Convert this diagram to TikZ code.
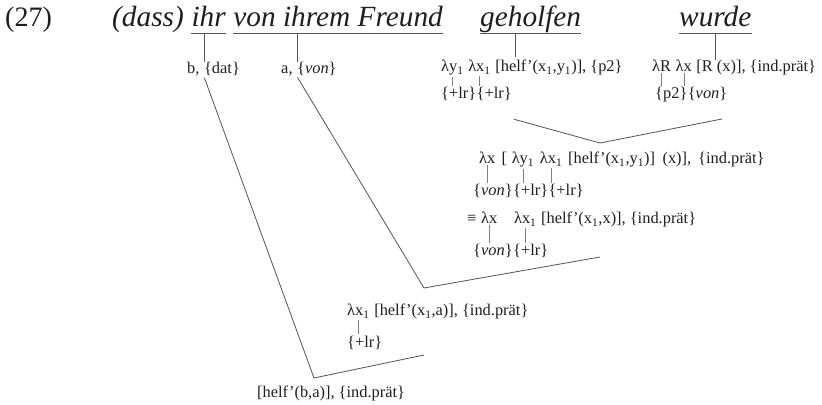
\documentclass[tikz,border=0pt]{standalone}
\usepackage{fontspec}
\setmainfont{Liberation Serif}
\usetikzlibrary{positioning}
\definecolor{inkgray}{RGB}{30,30,30}
\definecolor{linegray}{RGB}{85,85,85}
\newcommand{\helf}{helf\textquoteright}
\newcommand{\ix}[1]{\textsubscript{#1}}

\begin{document}
\begin{tikzpicture}[x=0.03cm, y=-0.03cm,
    every node/.style={inner sep=0pt, text=inkgray},
    word/.style={font=\fontsize{25}{30}\selectfont\itshape, anchor=base west},
    uword/.style={word, text depth=5.5pt},
    sem/.style={font=\fontsize{14}{17}\selectfont, anchor=base west},
    stalk/.style={linegray, line width=0.6pt},
    tick/.style={gray, line width=0.4pt, shorten <=1pt, shorten >=1pt},
    branch/.style={linegray, line width=0.7pt, shorten <=1pt}
  ]
  \useasboundingbox (0,0) rectangle (822,405);

  % sentence
  \node[word, font=\fontsize{24}{28}\selectfont] (num) at (5,27) {(27)};
  \node[word] (dass) at (112,27) {(dass)};
  \node[uword, base right=6.2pt of dass] (ihr) {ihr};
  \node[uword, base right=6.2pt of ihr] (vF) {von ihrem Freund};
  \node[uword] (geh) at (480,27) {geholfen};
  \node[uword] (wur) at (679,27) {wurde};
  \foreach \w in {ihr, vF, geh, wur}
    \draw[stalk] (\w.south west) -- (\w.south east);

  % lexical entries
  \node[sem] (b) at (187,74) {b,};
  \node[sem, base right=3.5pt of b] (dat) {\{dat\}};
  \node[sem] (a) at (281,74) {a,};
  \node[sem, base right=3.5pt of a] (von) {\{\textit{von}\}};

  \node[sem] (ly1) at (441,72) {λy\ix{1}};
  \node[sem, base right=3.5pt of ly1] (lx1) {λx\ix{1}};
  \node[sem, base right=3.5pt of lx1] (g1) {[\helf(x\ix{1},y\ix{1})], \{p2\}};
  \node[sem] (fl1) at (441,99) {\{+lr\}};
  \node[sem, base right=0pt of fl1] (fl2) {\{+lr\}};

  \node[sem] (lR) at (652,72) {λR};
  \node[sem, base right=3.5pt of lR] (lx2) {λx};
  \node[sem, base right=3.5pt of lx2] (w1) {[R (x)], \{ind.prät\}};
  \node[sem] (fp2) at (655,99) {\{p2\}};
  \node[sem, base right=0pt of fp2] (fvon1) {\{\textit{von}\}};

  \draw[stalk] (ihr.south -| dat.north west) -- (dat.north west);
  \draw[stalk] (vF.south -| von.north west) -- (von.north west);
  \coordinate (gfoot) at (515,57);
  \draw[stalk] (geh.south -| gfoot) -- (gfoot);
  \draw[stalk] (wur.south) -- (wur.south |- w1.north);

  % geholfen + wurde
  \node[sem] (lx3) at (479,164) {λx};
  \node[sem, base right=5pt of lx3] (br) {[};
  \node[sem, base right=3.5pt of br] (ly3) {λy\ix{1}};
  \node[sem, base right=4.5pt of ly3] (lx4) {λx\ix{1}};
  \node[sem, base right=4.5pt of lx4] (m1a) {[\helf(x\ix{1},y\ix{1})]};
  \node[sem, base right=6pt of m1a] (m1b) {(x)],};
  \node[sem, base right=5.5pt of m1b] (m1c) {\{ind.prät\}};
  \node[sem] (fvon2) at (473,196) {\{\textit{von}\}};
  \node[sem, base right=0pt of fvon2] (fl3) {\{+lr\}};
  \node[sem, base right=0pt of fl3] (fl4) {\{+lr\}};

  \node[sem] (eq) at (467,224) {≡};
  \node[sem, base right=3.5pt of eq] (lx5) {λx};
  \node[sem, base right=14pt of lx5] (lx6) {λx\ix{1}};
  \node[sem, base right=3.5pt of lx6] (m2) {[\helf(x\ix{1},x)], \{ind.prät\}};
  \node[sem] (fvon3) at (473,256) {\{\textit{von}\}};
  \node[sem, base right=0pt of fvon3] (fl5) {\{+lr\}};

  % + von ihrem Freund
  \node[sem] (lx7) at (347,316) {λx\ix{1}};
  \node[sem, base right=3.5pt of lx7] (l1) {[\helf(x\ix{1},a)], \{ind.prät\}};
  \node[sem] (fl6) at (347,347) {\{+lr\}};

  % + ihr
  \node[sem] (l0) at (257,397) {[\helf(b,a)], \{ind.prät\}};

  \foreach \l/\f in {ly1/fl1, lx1/fl2, lR/fp2, lx2/fvon1, lx3/fvon2, ly3/fl3,
                     lx4/fl4, lx5/fvon3, lx6/fl5, lx7/fl6}
    \draw[tick] (\l.south) -- (\l.south |- \f.north);

  % combinations
  \coordinate (v1) at (600,143);
  \coordinate (e1l) at (513,119);
  \coordinate (e1r) at (722,119);
  \draw[branch] (e1l) -- (v1) -- (e1r);

  \coordinate (v2) at (424,288);
  \coordinate (e2) at (600,257);
  \draw[branch] (von.south west) -- (v2) -- (e2);

  \coordinate (v3) at (314,378);
  \coordinate (e3) at (424,355);
  \draw[branch] (dat.south west) -- (v3) -- (e3);
\end{tikzpicture}
\end{document}
